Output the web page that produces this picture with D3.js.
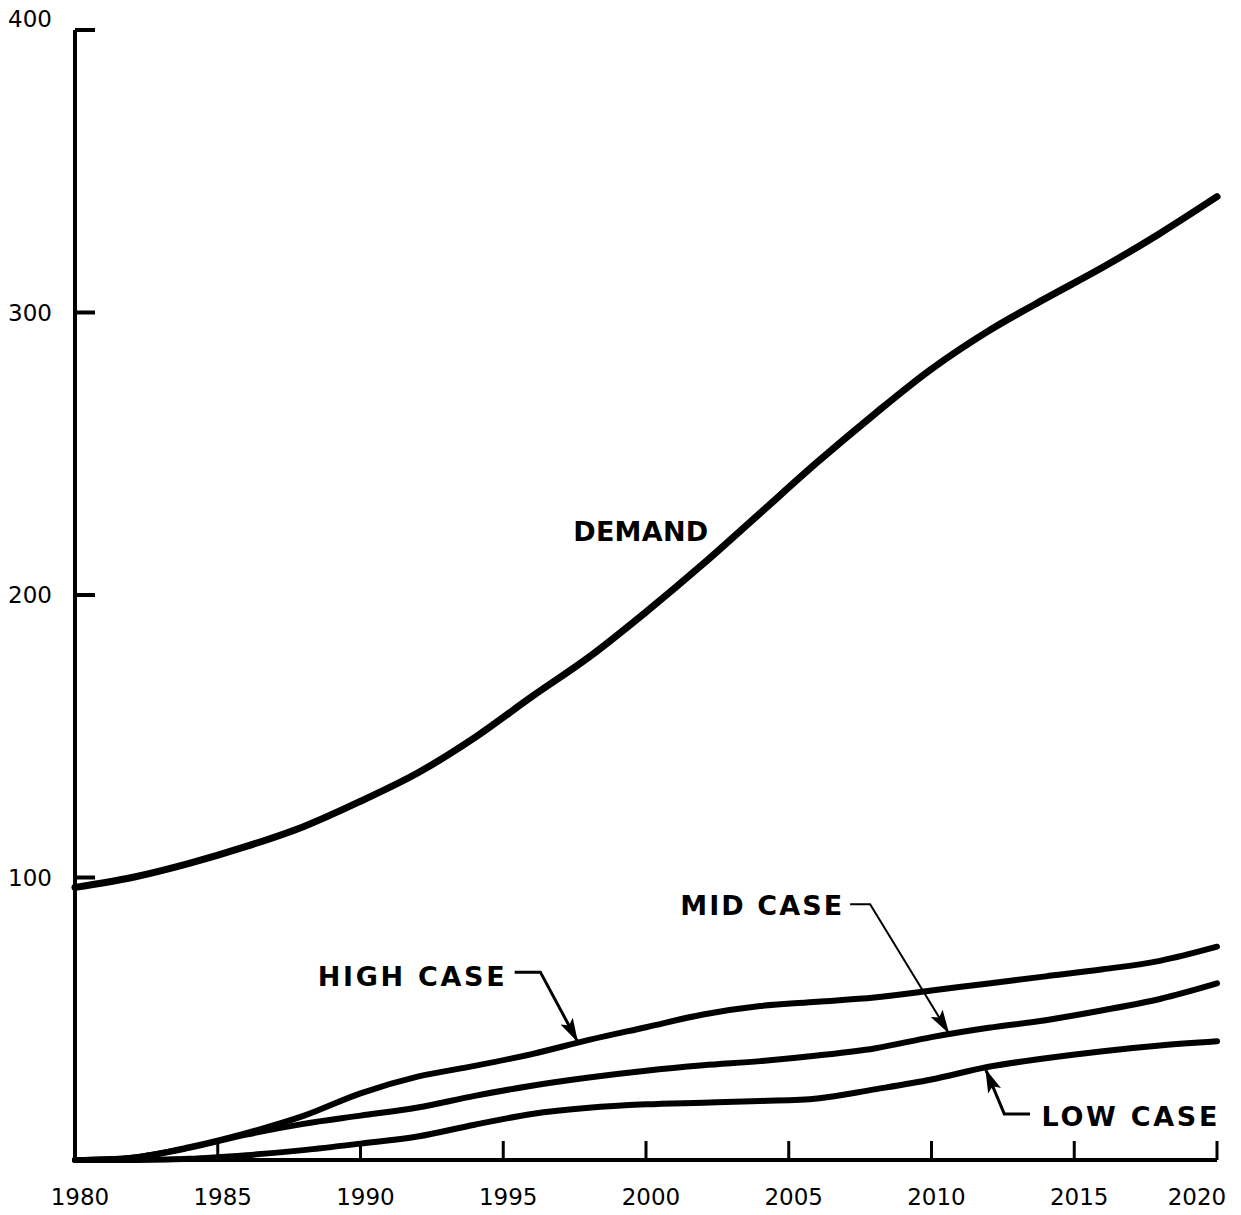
<!DOCTYPE html>
<html>
<head>
<meta charset="utf-8">
<script src="https://cdn.jsdelivr.net/npm/d3@7"></script>
<style>
  body { margin: 0; background: #fff; }
  svg { display: block; }
</style>
</head>
<body>
<div id="chart"></div>
<script>
// years sampled along every curve
const years = [1980, 1982, 1984, 1986, 1988, 1990, 1992, 1994, 1996, 1998, 2000,
               2002, 2004, 2006, 2008, 2010, 2012, 2014, 2016, 2018, 2020];

const demand = [96.5, 100, 105, 111, 118, 127, 137, 149.5, 164, 178, 194,
                211, 229, 247, 264, 280, 293.5, 305, 316, 328, 341];
const highCase = [0, 0.8, 4.5, 9.5, 15.6, 23.6, 29.5, 33.3, 37.5, 42.5, 47,
                  51.5, 54.5, 56, 57.5, 60, 62.5, 65, 67.5, 70.5, 75.5];
const midCase = [0, 0.8, 4.3, 9, 12.8, 15.7, 18.6, 22.7, 26.3, 29.2, 31.6,
                 33.5, 35, 37, 39.5, 43.5, 46.8, 49.5, 53, 57, 62.5];
const lowCase = [0, 0, 0.4, 1.7, 3.5, 5.8, 8.3, 12.5, 16.3, 18.5, 19.7,
                 20.3, 20.9, 21.8, 25, 28.5, 33, 36, 38.5, 40.5, 42];

const xTicks = [1980, 1985, 1990, 1995, 2000, 2005, 2010, 2015, 2020];
const yTicks = [100, 200, 300, 400];

const width = 1241, height = 1215;

const x = d3.scaleLinear().domain([1980, 2020]).range([75, 1217]);
const y = d3.scaleLinear().domain([0, 400]).range([1160, 30]);

const svg = d3.select("#chart").append("svg")
  .attr("width", width)
  .attr("height", height)
  .attr("font-family", "DejaVu Sans, sans-serif");

// arrow head for the callouts
svg.append("defs").append("marker")
  .attr("id", "arrow")
  .attr("markerUnits", "userSpaceOnUse")
  .attr("viewBox", "0 0 24 14")
  .attr("refX", 23)
  .attr("refY", 7)
  .attr("markerWidth", 24)
  .attr("markerHeight", 14)
  .attr("orient", "auto")
  .append("path")
  .attr("d", "M0,0 L24,7 L0,14 L5,7 Z")
  .attr("fill", "#000");

// axes, drawn by hand to get the inward ticks of the original
const axisG = svg.append("g").attr("stroke", "#000").attr("fill", "none");

axisG.append("line")
  .attr("x1", x(1980)).attr("x2", x(1980))
  .attr("y1", y(400)).attr("y2", y(0))
  .attr("stroke-width", 4);
axisG.append("line")
  .attr("x1", x(1980) - 2).attr("x2", x(2020))
  .attr("y1", y(0)).attr("y2", y(0))
  .attr("stroke-width", 4);

axisG.selectAll(".ytick").data(yTicks).join("line")
  .attr("x1", x(1980)).attr("x2", x(1980) + 20)
  .attr("y1", d => y(d)).attr("y2", d => y(d))
  .attr("stroke-width", 4);

axisG.selectAll(".xtick").data(xTicks.slice(1)).join("line")
  .attr("x1", d => x(d)).attr("x2", d => x(d))
  .attr("y1", y(0)).attr("y2", y(0) - 19)
  .attr("stroke-width", 3);

svg.append("g").selectAll("text").data(yTicks).join("text")
  .attr("x", 52)
  .attr("y", d => d === 400 ? y(d) - 11 : y(d))
  .attr("dy", "0.36em")
  .attr("text-anchor", "end")
  .attr("font-size", 23)
  .text(d => d);

svg.append("g").selectAll("text").data(xTicks).join("text")
  .attr("x", d => d === 2020 ? x(d) - 20 : x(d) + 5)
  .attr("y", 1205)
  .attr("text-anchor", "middle")
  .attr("font-size", 23)
  .text(d => d);

// curves
const line = d3.line()
  .x((d, i) => x(years[i]))
  .y(d => y(d))
  .curve(d3.curveCatmullRom);

const series = [demand, highCase, midCase, lowCase];
svg.append("g").selectAll("path").data(series).join("path")
  .attr("d", line)
  .attr("fill", "none")
  .attr("stroke", "#000")
  .attr("stroke-width", (d, i) => i === 0 ? 7 : 6)
  .attr("stroke-linecap", "round");

// labels, spaced out to the widths of the hand lettering
const labels = [
  { text: "DEMAND", at: [1997.45, 222.5], len: 135 },
  { text: "HIGH CASE", at: [1988.5, 65], len: 187 },
  { text: "MID CASE", at: [2001.2, 90], len: 162 },
  { text: "LOW CASE", at: [2013.85, 15.6], len: 176 }
];

svg.append("g").selectAll("text").data(labels).join("text")
  .attr("x", d => x(d.at[0]))
  .attr("y", d => y(d.at[1]))
  .attr("dy", "0.36em")
  .attr("font-size", 27)
  .attr("font-weight", "bold")
  .attr("textLength", d => d.len)
  .attr("lengthAdjust", "spacing")
  .text(d => d.text);

// callout leaders [year, value]
const leaders = [
  { pts: [[1995.4, 66.5], [1996.3, 66.5], [1997.6, 42]], w: 3 },
  { pts: [[2007.15, 90.5], [2007.85, 90.5], [2010.6, 45]], w: 2 },
  { pts: [[2013.45, 16.3], [2012.55, 16.3], [2011.9, 32]], w: 3 }
];

const leaderLine = d3.line().x(d => x(d[0])).y(d => y(d[1]));
svg.append("g").selectAll("path").data(leaders).join("path")
  .attr("d", d => leaderLine(d.pts))
  .attr("fill", "none")
  .attr("stroke", "#000")
  .attr("stroke-width", d => d.w)
  .attr("marker-end", "url(#arrow)");
</script>
</body>
</html>
